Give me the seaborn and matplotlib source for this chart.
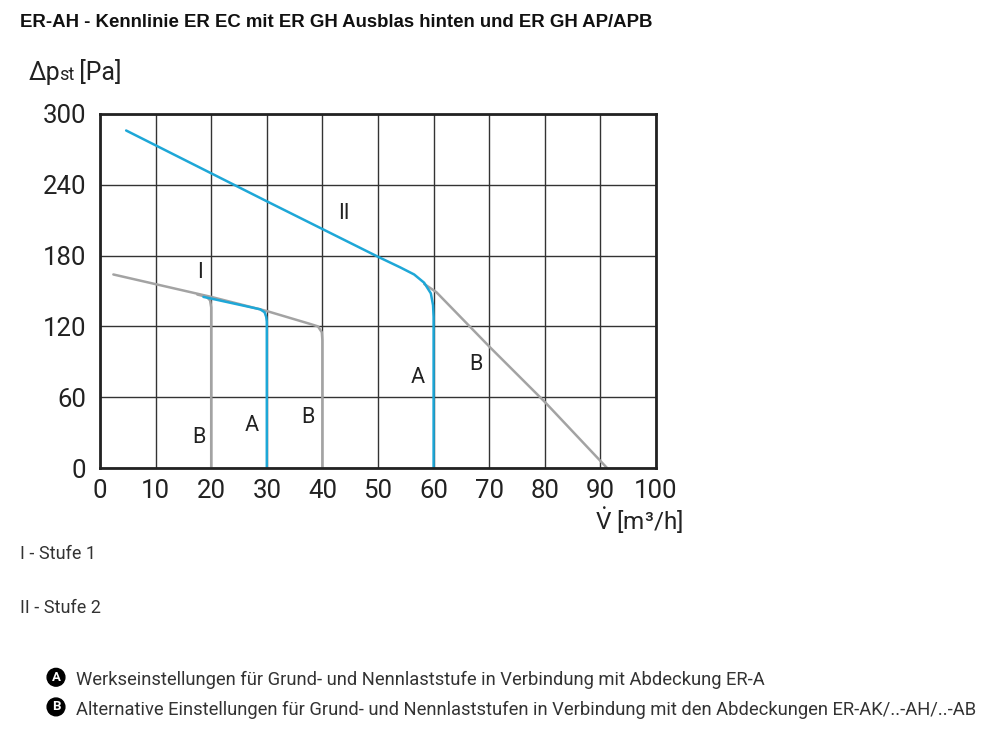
import numpy as np
import pandas as pd
import matplotlib
matplotlib.use("Agg")
import matplotlib.pyplot as plt
import seaborn as sns
from matplotlib.offsetbox import TextArea, HPacker, AnchoredOffsetbox

# curve data (volume flow m3/h, static pressure Pa)
stufe1_b_x = [2.4, 20, 30, 37.5, 39.2, 39.9, 40, 40]
stufe1_b_y = [164, 145, 133, 122.5, 120, 115, 108, 0]
stufe1_b20_x = [17.5, 19.2, 19.8, 20, 20]
stufe1_b20_y = [147, 145, 142, 136, 0]
stufe1_a_x = [18.6, 28.8, 29.6, 29.9, 30, 30]
stufe1_a_y = [145, 134.5, 132, 128, 124, 0]
stufe2_a_x = [4.7, 30, 50, 54, 56.5, 58.3, 59.5, 59.9, 60, 60]
stufe2_a_y = [286, 226, 179, 170, 164, 157, 148, 138, 128, 0]
stufe2_b_x = [58.3, 60.5, 70, 80, 91.2]
stufe2_b_y = [156, 149, 103, 56, 0]

x_ticks = [0, 10, 20, 30, 40, 50, 60, 70, 80, 90, 100]
y_ticks = [0, 60, 120, 180, 240, 300]

curve_labels = ["I", "II", "B", "A", "B", "A", "B"]
curve_label_x = [18, 43.9, 17.8, 27.3, 37.4, 57.2, 67.6]
curve_label_y = [166, 216, 26, 36, 43, 77, 88]

frames = []
for name, kind, xs, ys in [
    ("s1b", "B", stufe1_b_x, stufe1_b_y),
    ("s1b20", "B", stufe1_b20_x, stufe1_b20_y),
    ("s1a", "A", stufe1_a_x, stufe1_a_y),
    ("s2b", "B", stufe2_b_x, stufe2_b_y),
    ("s2a", "A", stufe2_a_x, stufe2_a_y),
]:
    frames.append(pd.DataFrame({"curve": name, "kind": kind, "flow": xs, "dp": ys}))
df = pd.concat(frames, ignore_index=True)

sns.set_style("white")
narrow = ["Roboto", "DejaVu Sans"]
plt.rcParams["font.family"] = narrow
plt.rcParams["mathtext.fontset"] = "custom"
plt.rcParams["mathtext.rm"] = "Roboto"
plt.rcParams["mathtext.it"] = "Roboto:italic"

fig = plt.figure(figsize=(10, 7.41), dpi=100)
ax = fig.add_axes([0.1, 0.3684, 0.556, 0.4778])

sns.lineplot(data=df, x="flow", y="dp", hue="kind", units="curve", estimator=None,
             sort=False, palette={"A": "#1ea7d7", "B": "#a3a3a3"},
             hue_order=["B", "A"], linewidth=1.8, legend=False, ax=ax)

ax.set_xlim(0, 100)
ax.set_ylim(0, 300)
ax.set_xticks(x_ticks)
ax.set_yticks(y_ticks)
ax.tick_params(length=0, labelsize=18.5, colors="#222222")
ax.tick_params(axis="x", pad=8)
ax.tick_params(axis="y", pad=10)
ax.grid(True, color="#333333", linewidth=1.0)
for sp in ax.spines.values():
    sp.set_linewidth(2)
    sp.set_color("#222222")
ax.set_xlabel("")
ax.set_ylabel("")

for lab, lx, ly in zip(curve_labels, curve_label_x, curve_label_y):
    ax.text(lx, ly, lab, fontsize=15.5, color="#222222", ha="center", va="center")

# axis titles
ax.text(1.049, -0.147, r"$\dot{\mathrm{V}}$ [m³/h]", transform=ax.transAxes,
        fontsize=17.5, ha="right", va="center", color="#222222")

ylab = HPacker(children=[
    TextArea("Δp", textprops=dict(fontsize=18, color="#222222", family=narrow)),
    TextArea("st", textprops=dict(fontsize=13, color="#222222", family=narrow)),
    TextArea(" [Pa]", textprops=dict(fontsize=18, color="#222222", family=narrow)),
], align="baseline", pad=0, sep=-1)
box = AnchoredOffsetbox(loc="center left", child=ylab, pad=0, frameon=False,
                        bbox_to_anchor=(0.029, 0.902), bbox_transform=fig.transFigure,
                        borderpad=0)
fig.add_artist(box)

fig.text(0.02, 0.970, "ER-AH - Kennlinie ER EC mit ER GH Ausblas hinten und ER GH AP/APB",
         fontsize=13.4, fontweight="bold", family=["Liberation Sans", "DejaVu Sans"],
         ha="left", va="center", color="#111111")

fig.text(0.02, 0.253, "I - Stufe 1", fontsize=13, color="#333333", ha="left", va="center")
fig.text(0.02, 0.180, "II - Stufe 2", fontsize=13, color="#333333", ha="left", va="center")

for letter, yy, txt in [
    ("A", 0.082, "Werkseinstellungen für Grund- und Nennlaststufe in Verbindung mit Abdeckung ER-A"),
    ("B", 0.042, "Alternative Einstellungen für Grund- und Nennlaststufen in Verbindung mit den Abdeckungen ER-AK/..-AH/..-AB"),
]:
    fig.text(0.056, yy + 0.004, letter, fontsize=9.5, fontweight="bold", color="white",
             ha="center", va="center",
             bbox=dict(boxstyle="circle,pad=0.18", fc="black", ec="black"))
    fig.text(0.076, yy, txt, fontsize=13.2, color="#333333", ha="left", va="center")

fig.savefig("out.png", dpi=100)
